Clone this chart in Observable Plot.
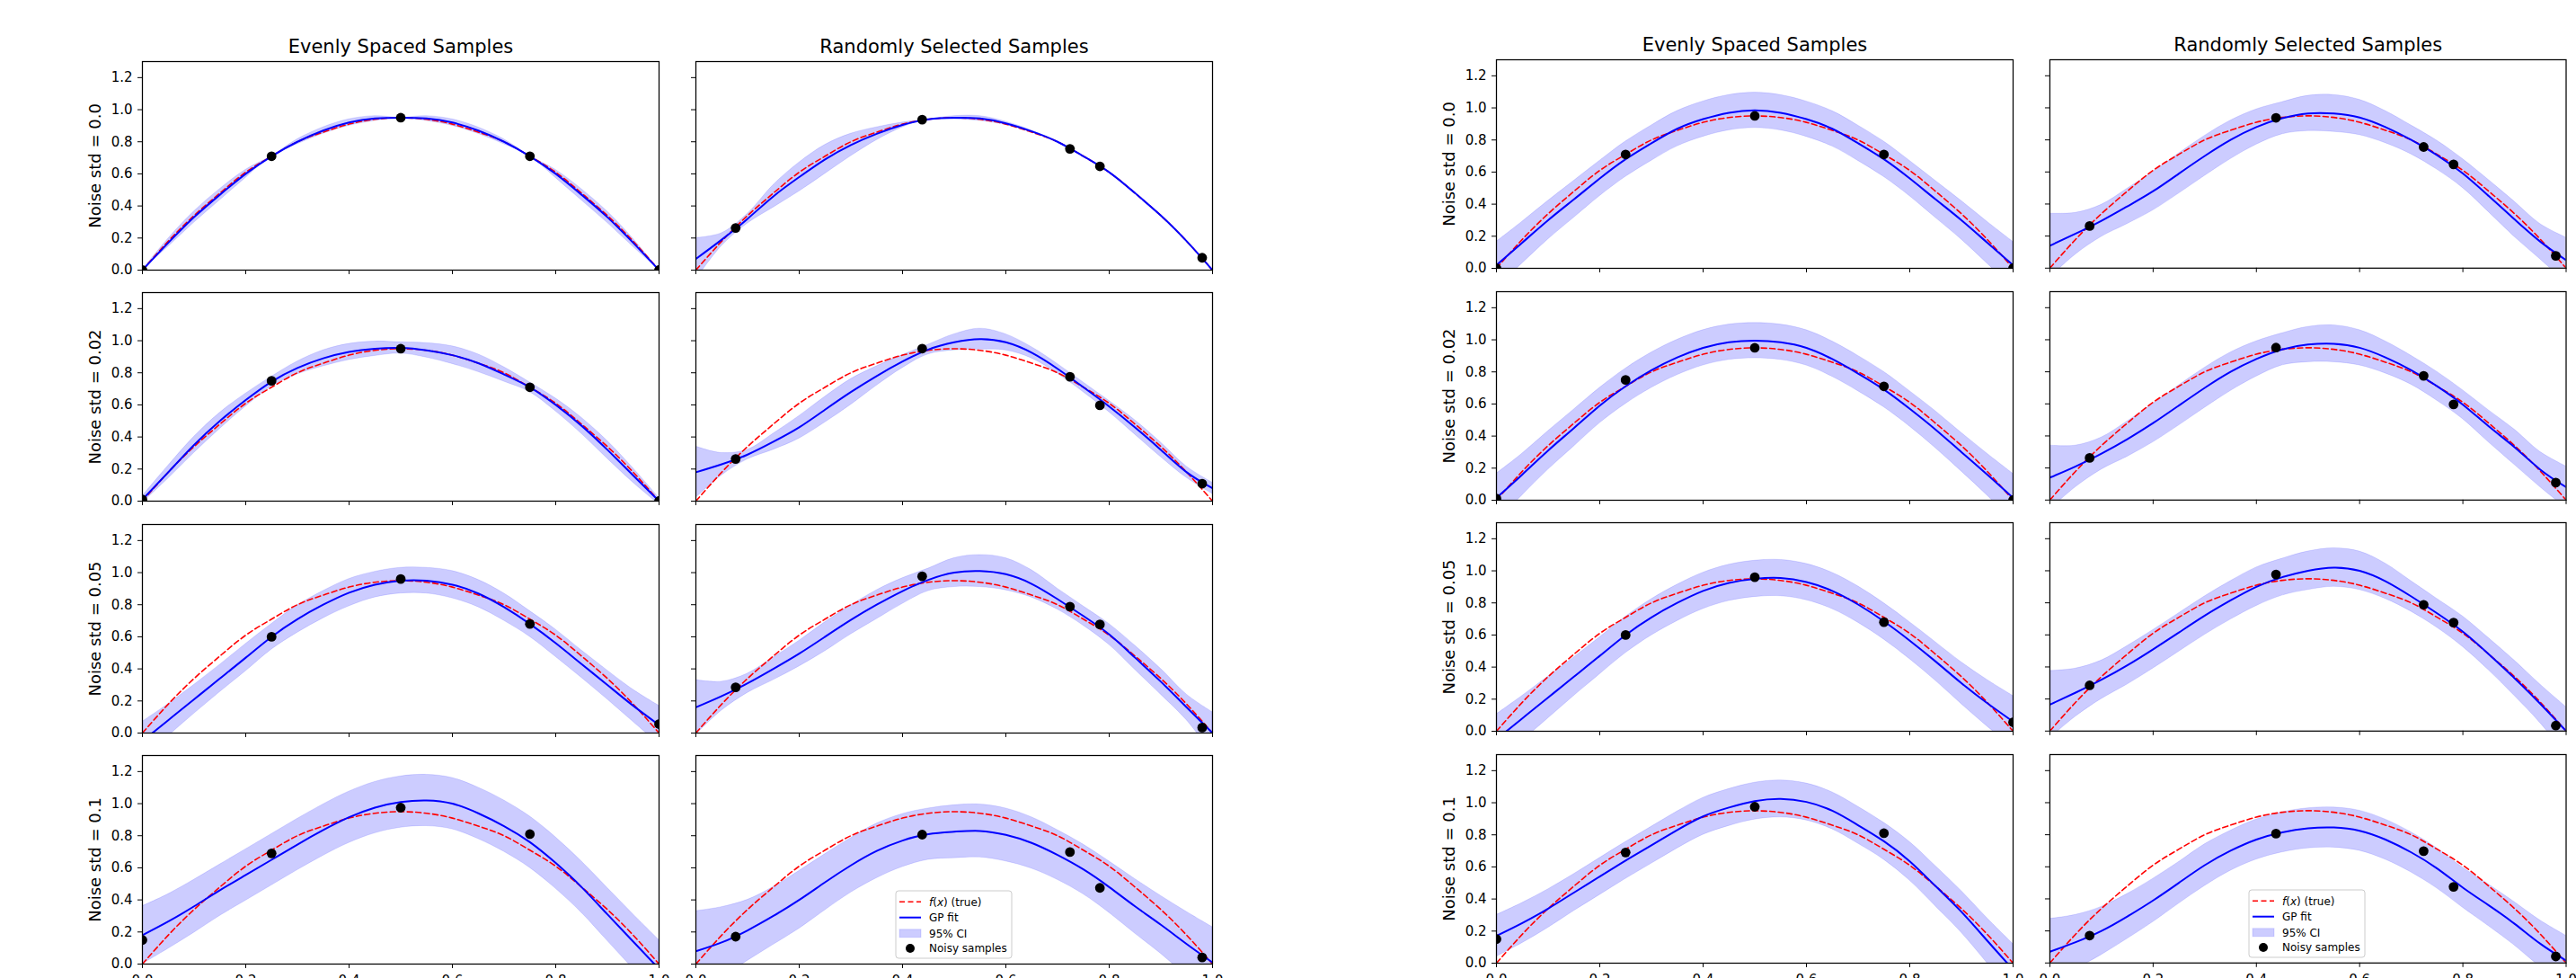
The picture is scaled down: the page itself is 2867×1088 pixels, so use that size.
<!DOCTYPE html>
<html><head><meta charset="utf-8">
<script src="https://cdn.jsdelivr.net/npm/d3@7"></script>
<script src="https://cdn.jsdelivr.net/npm/@observablehq/plot@0.6"></script>
<style>
html,body{margin:0;padding:0;background:#fff;}
#root{position:relative;width:2867px;height:1088px;overflow:hidden;font-family:"DejaVu Sans",sans-serif;background:#fff;}
.panel{position:absolute;}
</style></head><body><div id="root"></div>
<script>
// ---------- data ----------
const xGrid = [0,0.05,0.1,0.15,0.2,0.25,0.3,0.35,0.4,0.45,0.5,0.55,0.6,0.65,0.7,0.75,0.8,0.85,0.9,0.95,1];
const trueF = [0,0.18,0.34,0.48,0.61,0.71,0.80,0.86,0.91,0.94,0.95,0.94,0.91,0.86,0.80,0.71,0.61,0.48,0.34,0.18,0];
const xTicks = [0,0.2,0.4,0.6,0.8,1.0];
const yTicks = [0,0.2,0.4,0.6,0.8,1.0,1.2];
const noiseLabels = ["0.0","0.02","0.05","0.1"];
const colTitles = ["Evenly Spaced Samples","Randomly Selected Samples"];
const evenX = [0,0.25,0.5,0.75,1.0];
const randX = [0.077,0.438,0.724,0.782,0.98];
const evenY = [
  [0,0.71,0.95,0.71,0],
  [0.01,0.75,0.95,0.71,0.0],
  [-0.06,0.60,0.96,0.68,0.056],
  [0.15,0.69,0.975,0.81,-0.07]
];
const randY = [
  [0.263,0.938,0.756,0.647,0.077],
  [0.263,0.951,0.775,0.597,0.109],
  [0.285,0.977,0.788,0.677,0.034],
  [0.171,0.807,0.698,0.475,0.041]
];
// left figure GP fits
const meanLeftEven = [
  [0,0.17,0.33,0.47,0.60,0.71,0.80,0.87,0.92,0.945,0.95,0.945,0.92,0.87,0.80,0.71,0.60,0.47,0.33,0.17,0.0],
  [0.01,0.18,0.35,0.50,0.63,0.745,0.83,0.89,0.93,0.95,0.955,0.94,0.91,0.86,0.79,0.71,0.60,0.47,0.32,0.16,0.0],
  [-0.05,0.08,0.21,0.34,0.47,0.60,0.71,0.80,0.875,0.925,0.95,0.95,0.925,0.87,0.785,0.68,0.56,0.43,0.30,0.17,0.05],
  [0.18,0.265,0.36,0.46,0.555,0.65,0.745,0.835,0.915,0.975,1.01,1.02,1.0,0.94,0.86,0.76,0.63,0.48,0.31,0.14,-0.03]
];
const hwLeftEven = [
  [0,0.025,0.035,0.035,0.025,0,0.015,0.02,0.02,0.015,0,0.015,0.02,0.02,0.015,0,0.025,0.035,0.035,0.025,0],
  [0.02,0.04,0.05,0.05,0.04,0.03,0.04,0.05,0.05,0.045,0.035,0.045,0.055,0.055,0.045,0.03,0.04,0.05,0.055,0.045,0.02],
  [0.12,0.10,0.09,0.085,0.085,0.08,0.085,0.085,0.085,0.08,0.08,0.08,0.085,0.085,0.085,0.08,0.085,0.085,0.09,0.10,0.12],
  [0.18,0.17,0.165,0.16,0.16,0.16,0.16,0.16,0.16,0.16,0.16,0.16,0.16,0.16,0.16,0.16,0.16,0.16,0.165,0.17,0.18]
];
const meanLeftRand = [
  [0.07,0.19,0.32,0.46,0.58,0.69,0.78,0.85,0.905,0.94,0.95,0.945,0.915,0.865,0.80,0.71,0.61,0.48,0.34,0.18,0.0],
  [0.18,0.23,0.29,0.37,0.46,0.57,0.68,0.78,0.87,0.945,0.99,1.01,0.99,0.925,0.825,0.71,0.59,0.46,0.32,0.18,0.08],
  [0.16,0.23,0.31,0.40,0.495,0.60,0.705,0.80,0.885,0.955,1.0,1.01,0.99,0.93,0.835,0.73,0.615,0.47,0.32,0.16,0.0],
  [0.08,0.135,0.21,0.30,0.40,0.51,0.615,0.705,0.77,0.81,0.825,0.83,0.805,0.755,0.68,0.59,0.48,0.36,0.245,0.125,0.01]
];
const hwLeftRand = [
  [0.13,0.04,0.03,0.07,0.09,0.09,0.07,0.04,0.015,0.0,0.01,0.015,0.01,0.005,0.0,0.0,0.0,0.003,0.003,0.0,0.005],
  [0.16,0.07,0.03,0.05,0.07,0.08,0.08,0.06,0.04,0.03,0.05,0.065,0.05,0.035,0.03,0.03,0.035,0.045,0.045,0.035,0.035],
  [0.17,0.09,0.06,0.07,0.08,0.09,0.09,0.09,0.08,0.07,0.09,0.10,0.10,0.085,0.065,0.06,0.065,0.075,0.08,0.08,0.13],
  [0.25,0.22,0.19,0.18,0.18,0.175,0.17,0.17,0.165,0.16,0.165,0.165,0.165,0.16,0.155,0.155,0.16,0.17,0.18,0.2,0.22]
];
// right figure GP fits
const meanRightEven = [
  [0.02,0.16,0.30,0.43,0.56,0.68,0.78,0.87,0.93,0.97,0.985,0.97,0.93,0.87,0.78,0.68,0.56,0.43,0.30,0.16,0.02],
  [0.015,0.16,0.31,0.45,0.59,0.71,0.81,0.89,0.95,0.985,0.995,0.985,0.95,0.88,0.79,0.69,0.57,0.44,0.30,0.16,0.015],
  [-0.05,0.08,0.21,0.34,0.47,0.60,0.71,0.80,0.875,0.925,0.95,0.955,0.93,0.875,0.79,0.685,0.565,0.435,0.30,0.175,0.06],
  [0.17,0.25,0.34,0.44,0.54,0.64,0.735,0.83,0.915,0.97,1.01,1.024,1.005,0.95,0.86,0.76,0.635,0.48,0.32,0.14,-0.04]
];
const hwRightEven = [
  [0.145,0.13,0.12,0.115,0.11,0.11,0.11,0.11,0.11,0.11,0.11,0.11,0.11,0.11,0.11,0.11,0.11,0.115,0.12,0.13,0.145],
  [0.15,0.13,0.12,0.115,0.11,0.11,0.11,0.11,0.11,0.11,0.11,0.11,0.11,0.11,0.11,0.11,0.11,0.115,0.12,0.13,0.15],
  [0.155,0.14,0.13,0.12,0.115,0.113,0.113,0.113,0.113,0.113,0.113,0.113,0.113,0.113,0.113,0.113,0.115,0.12,0.13,0.145,0.16],
  [0.13,0.125,0.12,0.115,0.115,0.115,0.115,0.115,0.115,0.115,0.115,0.115,0.115,0.115,0.115,0.115,0.12,0.125,0.13,0.14,0.16]
];
const meanRightRand = [
  [0.14,0.215,0.295,0.385,0.48,0.59,0.70,0.80,0.88,0.935,0.965,0.965,0.94,0.88,0.80,0.705,0.59,0.45,0.305,0.165,0.05],
  [0.14,0.21,0.29,0.38,0.48,0.59,0.70,0.80,0.88,0.94,0.97,0.975,0.95,0.89,0.81,0.71,0.595,0.46,0.33,0.19,0.08],
  [0.165,0.24,0.32,0.41,0.51,0.615,0.72,0.815,0.90,0.96,1.0,1.02,1.0,0.935,0.84,0.735,0.62,0.48,0.33,0.17,0.0],
  [0.07,0.13,0.20,0.29,0.39,0.50,0.61,0.70,0.77,0.815,0.84,0.845,0.825,0.77,0.69,0.59,0.47,0.36,0.245,0.12,0.015]
];
const hwRightRand = [
  [0.2,0.13,0.1,0.11,0.12,0.125,0.125,0.12,0.11,0.1,0.11,0.115,0.11,0.1,0.09,0.09,0.09,0.1,0.11,0.11,0.14],
  [0.2,0.13,0.1,0.11,0.12,0.125,0.125,0.12,0.11,0.1,0.11,0.115,0.11,0.1,0.09,0.09,0.09,0.1,0.11,0.11,0.13],
  [0.21,0.15,0.12,0.12,0.12,0.12,0.12,0.12,0.12,0.115,0.12,0.12,0.12,0.11,0.095,0.09,0.095,0.1,0.11,0.12,0.15],
  [0.205,0.17,0.15,0.14,0.135,0.13,0.13,0.125,0.125,0.125,0.125,0.125,0.125,0.125,0.125,0.125,0.125,0.13,0.135,0.145,0.155]
];
const legendLabels = ["f(x) (true)","GP fit","95% CI","Noisy samples"];

// ---------- layout ----------
const root = document.getElementById("root");
const PW = 575, PH = 232, ML = 80, MR = 12, MT = 40, MB = 40;
const fmt = d3.format(".1f");
const groups = [
  {colX:[158,774], rowY:[68,325.3,582.6,840], mean:[meanLeftEven,meanLeftRand], hw:[hwLeftEven,hwLeftRand], legend:[997,991]},
  {colX:[1665,2280.5], rowY:[66,323.5,581,838.5], mean:[meanRightEven,meanRightRand], hw:[hwRightEven,hwRightRand], legend:[2503,990]}
];

function makePanel(mean, hw, sx, sy, showY, showX, title, rowLabel) {
  const rows = xGrid.map((x,i)=>({x, t:trueF[i], m:mean[i], lo:mean[i]-hw[i], hi:mean[i]+hw[i]}));
  const pts = sx.map((x,i)=>({x, y:sy[i]}));
  const marks = [
    Plot.areaY(rows, {x:"x", y1:"lo", y2:"hi", fill:"blue", fillOpacity:0.2, stroke:"blue", strokeOpacity:0.12, strokeWidth:1, curve:"catmull-rom", clip:true}),
    Plot.line(rows, {x:"x", y:"t", stroke:"red", strokeWidth:1.6, strokeDasharray:"6,3.5", curve:"natural", clip:true}),
    Plot.line(rows, {x:"x", y:"m", stroke:"blue", strokeWidth:2, curve:"natural", clip:true}),
    Plot.dot(pts, {x:"x", y:"y", r:5.4, fill:"black", stroke:"none", clip:true}),
    Plot.axisX({ticks:xTicks, tickSize:5, tickPadding:8, tickFormat: showX ? fmt : () => "", label:null}),
    Plot.axisY({ticks:yTicks, tickSize:5, tickPadding:6, tickFormat: showY ? fmt : () => "", label:null}),
    Plot.frame({stroke:"black", strokeWidth:1.25})
  ];
  if (title) marks.push(Plot.text([title], {text:d=>d, frameAnchor:"top", dy:-9.5, lineAnchor:"bottom", fontSize:21}));
  if (rowLabel) marks.push(Plot.text([rowLabel], {text:d=>d, frameAnchor:"left", dx:-52, rotate:-90, textAnchor:"middle", lineAnchor:"middle", fontSize:18}));
  return Plot.plot({
    width: PW+ML+MR, height: PH+MT+MB,
    marginLeft: ML, marginRight: MR, marginTop: MT, marginBottom: MB,
    x: {domain:[0,1]}, y: {domain:[0,1.3]},
    style: {background:"transparent", fontFamily:"DejaVu Sans", fontSize:"15px", color:"black", overflow:"visible"},
    marks
  });
}

function addLegend(bx, by) {
  const svg = d3.select(root).append("svg")
    .attr("width",133).attr("height",79)
    .style("position","absolute").style("left",(bx-2)+"px").style("top",(by-2)+"px")
    .style("font-family","DejaVu Sans").style("font-size","12px");
  const g = svg.append("g").attr("transform","translate(2,2)");
  g.append("rect").attr("width",129).attr("height",75).attr("rx",3)
    .attr("fill","white").attr("fill-opacity",0.8).attr("stroke","#cccccc").attr("stroke-width",1);
  const ry = [12.3,29.7,47.3,64];
  const h0 = 4, h1 = 28, tx = 37;
  g.append("line").attr("x1",h0).attr("x2",h1).attr("y1",ry[0]).attr("y2",ry[0])
    .attr("stroke","red").attr("stroke-width",1.6).attr("stroke-dasharray","6,3.5");
  g.append("line").attr("x1",h0).attr("x2",h1).attr("y1",ry[1]).attr("y2",ry[1])
    .attr("stroke","blue").attr("stroke-width",2);
  g.append("rect").attr("x",h0).attr("y",ry[2]-4.5).attr("width",h1-h0).attr("height",9)
    .attr("fill","blue").attr("fill-opacity",0.2).attr("stroke","blue").attr("stroke-opacity",0.12);
  g.append("circle").attr("cx",(h0+h1)/2).attr("cy",ry[3]).attr("r",5).attr("fill","black");
  const t0 = g.append("text").attr("x",tx).attr("y",ry[0]).attr("dy","0.35em");
  t0.append("tspan").attr("font-style","italic").text("f");
  t0.append("tspan").text("(");
  t0.append("tspan").attr("font-style","italic").text("x");
  t0.append("tspan").text(") (true)");
  for (let k = 1; k < 4; k++) {
    g.append("text").attr("x",tx).attr("y",ry[k]).attr("dy","0.35em").text(legendLabels[k]);
  }
}

groups.forEach(G => {
  for (let r = 0; r < 4; r++) {
    for (let c = 0; c < 2; c++) {
      const sx = c === 0 ? evenX : randX;
      const sy = c === 0 ? evenY[r] : randY[r];
      const el = makePanel(G.mean[c][r], G.hw[c][r], sx, sy, c === 0, r === 3,
        r === 0 ? colTitles[c] : null, c === 0 ? "Noise std = " + noiseLabels[r] : null);
      const wrap = document.createElement("div");
      wrap.className = "panel";
      wrap.style.left = (G.colX[c] - ML) + "px";
      wrap.style.top = (G.rowY[r] - MT) + "px";
      wrap.appendChild(el);
      root.appendChild(wrap);
    }
  }
  addLegend(G.legend[0], G.legend[1]);
});
</script>
</body></html>
